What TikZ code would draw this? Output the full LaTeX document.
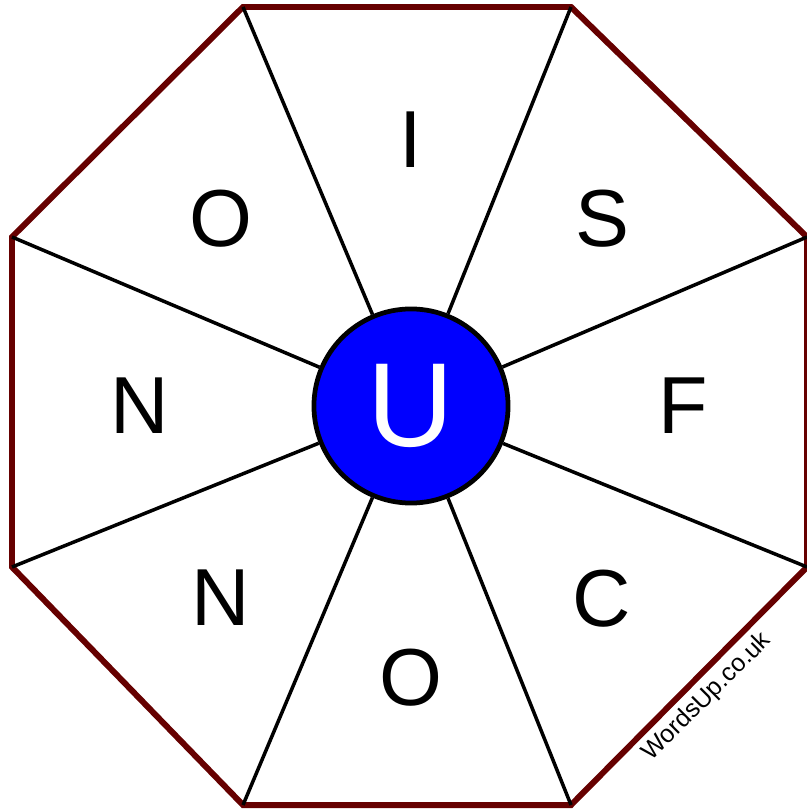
\documentclass[tikz,border=0pt]{standalone}
\usepackage{fontspec}
\setmainfont{Liberation Sans}
\definecolor{rim}{HTML}{660000}
\definecolor{hub}{HTML}{0000FF}
\tikzset{rimline/.style={draw=rim,line width=1.7pt,line join=miter}, spoke/.style={draw=black,line width=1pt}, hubdisc/.style={circle,draw=black,fill=hub,line width=1.35pt,minimum size=1.94cm,inner sep=0pt,text=white,font=\fontsize{34}{34}\selectfont}, letter/.style={inner sep=0pt,text depth=0pt,font=\fontsize{23}{23}\selectfont}}
\begin{document}
\begin{tikzpicture}[x=0.01cm,y=-0.01cm]
\useasboundingbox (0,0) rectangle (807,810);
\coordinate (v1) at (243,7);
\coordinate (v2) at (571,7);
\coordinate (v3) at (807,237);
\coordinate (v4) at (807,567);
\coordinate (v5) at (571,805);
\coordinate (v6) at (243,805);
\coordinate (v7) at (12,567);
\coordinate (v8) at (12,237);
\draw[rimline] (v1)--(v2)--(v3)--(v4)--(v5)--(v6)--(v7)--(v8)--cycle;
\node[hubdisc] (u) at (411,406) {};
\foreach \v in {v1,v2,v3,v4,v5,v6,v7,v8}
  \draw[spoke] (u)--(\v);
\node[hubdisc,draw=none,fill=none] (ul) at (411,406) {U};
\node[letter] (li) at (411,140) {I};
\node[letter] (ls) at (602,218) {S};
\node[letter] (lf) at (683,406) {F};
\node[letter] (lc) at (602,598) {C};
\node[letter] (lo1) at (411,677) {O};
\node[letter] (ln1) at (221,598) {N};
\node[letter] (ln2) at (140,406) {N};
\node[letter] (lo2) at (221,218) {O};
\node[rotate=45,font=\fontsize{7.1}{7.1}\selectfont,inner sep=0pt] (mark) at (707,697) {WordsUp.co.uk};
\end{tikzpicture}
\end{document}
